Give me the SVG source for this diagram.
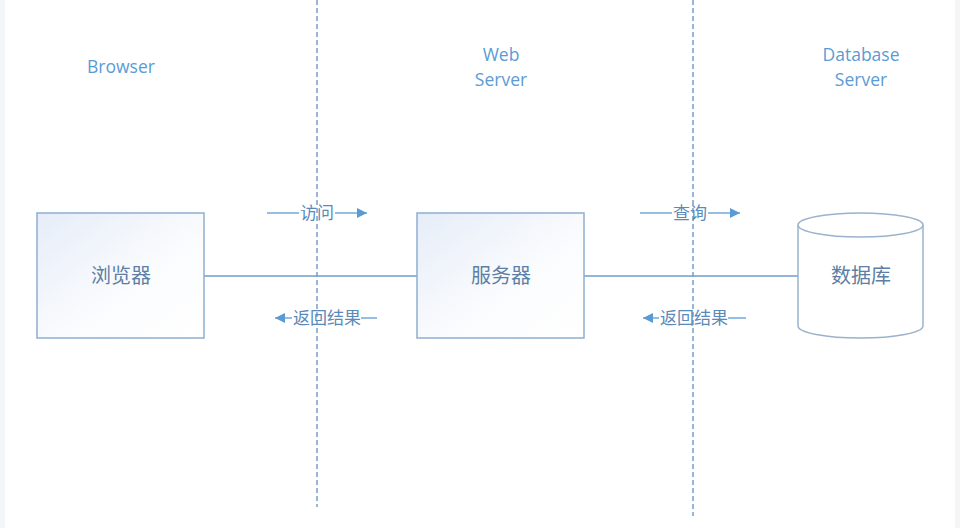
<svg xmlns="http://www.w3.org/2000/svg" width="960" height="528" viewBox="0 0 960 528">
<defs>
<linearGradient id="boxGrad" x1="0" y1="0" x2="1" y2="1">
<stop offset="0" stop-color="#e6edf8"/>
<stop offset="0.6" stop-color="#fbfcfe"/>
<stop offset="1" stop-color="#ffffff"/>
</linearGradient>
<marker id="arrow" viewBox="0 0 10 10" refX="10" refY="5" markerWidth="12" markerHeight="10" markerUnits="userSpaceOnUse" orient="auto">
<path d="M0,0 L10,5 L0,10 Z" fill="#5b9bd5"/>
</marker>
<style>
.lane{stroke:#7a9fc6;stroke-width:1.5;stroke-dasharray:5 3;fill:none}
.box{fill:url(#boxGrad);stroke:#8eafd0;stroke-width:1.5}
.cyl{fill:#ffffff;stroke:#9ab2cc;stroke-width:1.5}
.conn{stroke:#6f9cc8;stroke-width:1.3;fill:none}
.msg{stroke:#5b9bd5;stroke-width:1.3;fill:none}
.hdr{font-family:"Open Sans","Noto Sans",sans-serif;font-size:17.5px;fill:#5b9bd5;text-anchor:middle}
.node{font-family:"Noto Sans CJK SC",sans-serif;font-size:20px;fill:#5d7fa6;text-anchor:middle}
.lbl{font-family:"Noto Sans CJK SC",sans-serif;font-size:17px;fill:#5b89b8;text-anchor:middle}
</style>
</defs>
<rect x="0" y="0" width="960" height="528" fill="#ffffff"/>
<rect x="0" y="0" width="5" height="528" fill="#f4f5f7"/>
<rect x="955" y="0" width="5" height="528" fill="#f4f5f7"/>

<g id="lanes">
<line class="lane" x1="317" y1="0" x2="317" y2="507"/>
<line class="lane" x1="693" y1="0" x2="693" y2="516"/>
</g>

<g id="headers">
<text class="hdr" x="121" y="73">Browser</text>
<text class="hdr" x="501" y="61">Web</text>
<text class="hdr" x="501" y="86">Server</text>
<text class="hdr" x="861" y="61">Database</text>
<text class="hdr" x="861" y="86">Server</text>
</g>

<g id="connectors">
<line class="conn" x1="204" y1="276" x2="417" y2="276"/>
<line class="conn" x1="584" y1="276" x2="798" y2="276"/>
<line class="msg" x1="267" y1="213" x2="299" y2="213"/>
<line class="msg" x1="335" y1="213" x2="367" y2="213" marker-end="url(#arrow)"/>
<line class="msg" x1="377" y1="318" x2="361" y2="318"/>
<line class="msg" x1="292" y1="318" x2="275" y2="318" marker-end="url(#arrow)"/>
<line class="msg" x1="640" y1="213" x2="672" y2="213"/>
<line class="msg" x1="708" y1="213" x2="740" y2="213" marker-end="url(#arrow)"/>
<line class="msg" x1="746" y1="318" x2="728" y2="318"/>
<line class="msg" x1="659" y1="318" x2="643" y2="318" marker-end="url(#arrow)"/>
<text class="lbl" x="317" y="219">访问</text>
<text class="lbl" x="327" y="324">返回结果</text>
<text class="lbl" x="690" y="219">查询</text>
<text class="lbl" x="694" y="324">返回结果</text>
</g>

<g id="browser">
<rect class="box" x="37" y="213" width="167" height="125"/>
<text class="node" x="121" y="283">浏览器</text>
</g>

<g id="webserver">
<rect class="box" x="417" y="213" width="167" height="125"/>
<text class="node" x="501" y="283">服务器</text>
</g>

<g id="database">
<path class="cyl" d="M798,225 L798,326 A62.5,12 0 0 0 923,326 L923,225 A62.5,12 0 0 0 798,225 Z"/>
<path class="cyl" d="M798,225 A62.5,12 0 0 0 923,225" fill="none"/>
<text class="node" x="861" y="283">数据库</text>
</g>
</svg>
